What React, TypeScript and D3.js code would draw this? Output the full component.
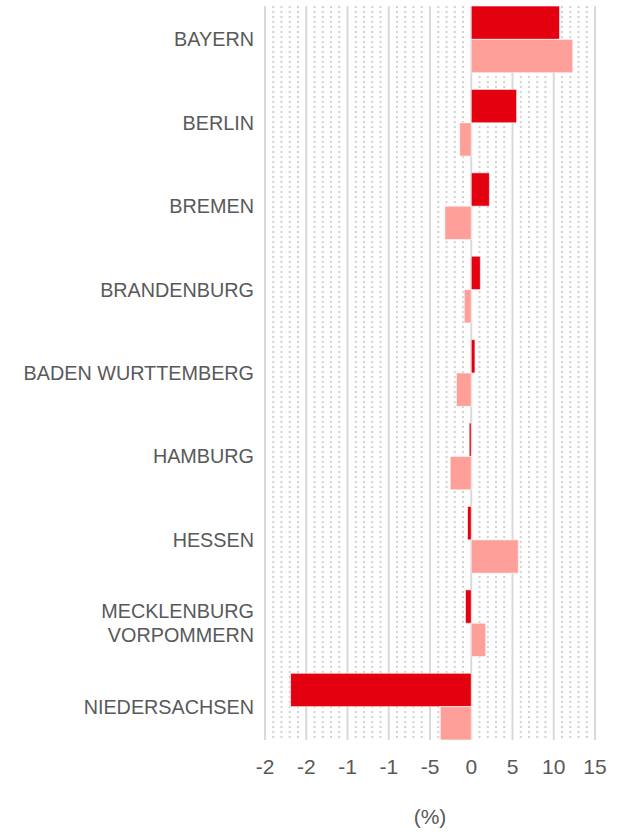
import React, { useEffect, useRef } from "react";
import * as d3 from "d3";

const categories = [
  ["BAYERN"],
  ["BERLIN"],
  ["BREMEN"],
  ["BRANDENBURG"],
  ["BADEN WURTTEMBERG"],
  ["HAMBURG"],
  ["HESSEN"],
  ["MECKLENBURG", "VORPOMMERN"],
  ["NIEDERSACHSEN"],
];
const seriesA = [10.7, 5.5, 2.2, 1.1, 0.45, -0.25, -0.45, -0.7, -21.9];
const seriesB = [12.3, -1.4, -3.2, -0.85, -1.8, -2.55, 5.7, 1.75, -3.75];
const tickValues = [-25, -20, -15, -10, -5, 0, 5, 10, 15];
const tickLabels = ["-2", "-2", "-1", "-1", "-5", "0", "5", "10", "15"];

const width = 632;
const height = 832;
const margin = { top: 6, right: 37, bottom: 92, left: 265 };

const App = () => {
  const ref = useRef(null);

  useEffect(() => {
    const svg = d3.select(ref.current);
    svg.selectAll("*").remove();

    const x = d3
      .scaleLinear()
      .domain([-25, 15])
      .range([margin.left, width - margin.right]);

    const y = d3
      .scaleBand()
      .domain(categories.map((d) => d.join(" ")))
      .range([margin.top, height - margin.bottom])
      .paddingInner(0.2)
      .paddingOuter(0);

    const y0 = margin.top;
    const y1 = height - margin.bottom;

    // minor dotted grid
    const minor = d3.range(-25, 16).filter((v) => v % 5 !== 0);
    svg
      .append("g")
      .selectAll("line")
      .data(minor)
      .join("line")
      .attr("x1", (d) => x(d))
      .attr("x2", (d) => x(d))
      .attr("y1", y0)
      .attr("y2", y1)
      .attr("stroke", "#d2d2d2")
      .attr("stroke-width", 2)
      .attr("stroke-dasharray", "2,3");

    // major grid
    svg
      .append("g")
      .selectAll("line")
      .data(tickValues)
      .join("line")
      .attr("x1", (d) => x(d))
      .attr("x2", (d) => x(d))
      .attr("y1", y0)
      .attr("y2", y1)
      .attr("stroke", "#d9d9d9")
      .attr("stroke-width", 2);

    const bh = y.bandwidth() / 2;
    const names = categories.map((d) => d.join(" "));

    const bars = (vals, color, off) =>
      svg
        .append("g")
        .selectAll("rect")
        .data(vals)
        .join("rect")
        .attr("x", (d) => Math.min(x(0), x(d)))
        .attr("width", (d) => Math.abs(x(d) - x(0)))
        .attr("y", (d, i) => y(names[i]) + off)
        .attr("height", bh)
        .attr("fill", color)
        .attr("stroke", "rgba(255,255,255,0.6)")
        .attr("stroke-width", 1);

    bars(seriesA, "#e3000f", 0);
    bars(seriesB, "#ff9f99", bh);

    // category labels
    const lab = svg
      .append("g")
      .attr("font-family", "'Liberation Sans', Arial, sans-serif")
      .attr("font-size", 19.8)
      .attr("fill", "#595959")
      .attr("text-anchor", "end");
    categories.forEach((lines, i) => {
      const cy = y(names[i]) + y.bandwidth() / 2;
      const t = lab
        .append("text")
        .attr("x", 254)
        .attr("y", cy - ((lines.length - 1) * 24) / 2);
      lines.forEach((l, j) => {
        t.append("tspan")
          .attr("x", 254)
          .attr("dy", j === 0 ? "0.35em" : 24)
          .text(l);
      });
    });

    // x axis labels
    svg
      .append("g")
      .attr("font-family", "'Liberation Sans', Arial, sans-serif")
      .attr("font-size", 21)
      .attr("fill", "#595959")
      .attr("text-anchor", "middle")
      .selectAll("text")
      .data(tickValues)
      .join("text")
      .attr("x", (d) => x(d))
      .attr("y", 767)
      .attr("dy", "0.35em")
      .text((d, i) => tickLabels[i]);

    svg
      .append("text")
      .attr("x", (x(-25) + x(15)) / 2)
      .attr("y", 817)
      .attr("dy", "0.35em")
      .attr("text-anchor", "middle")
      .attr("font-family", "'Liberation Sans', Arial, sans-serif")
      .attr("font-size", 21)
      .attr("fill", "#595959")
      .text("(%)");
  }, []);

  return (
    <svg
      ref={ref}
      width={width}
      height={height}
      style={{ position: "absolute", left: 0, top: 0, background: "#fff" }}
    />
  );
};

export default App;
